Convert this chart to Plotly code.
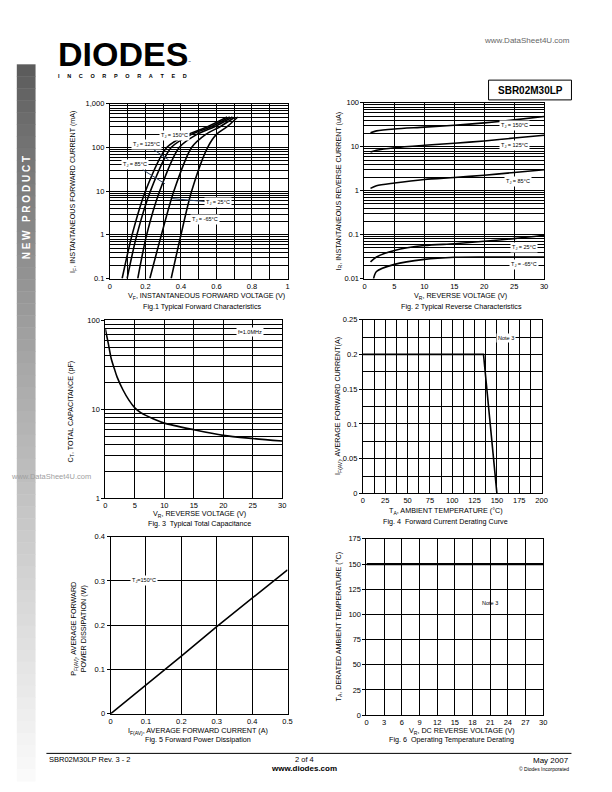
import plotly.graph_objects as go

W, H = 612, 792
FONT = "Liberation Sans, Arial, sans-serif"

# ---------------- data ----------------
# Fig.1 Typical Forward Characteristics (I_F in mA vs V_F in V)
fig1_if_ma = [0.1, 1, 10, 100, 200, 300, 500]
fig1_vf_150 = [0.069, 0.125, 0.200, 0.320, 0.440, 0.550, 0.660]
fig1_vf_125 = [0.097, 0.152, 0.228, 0.345, 0.460, 0.570, 0.675]
fig1_vf_85 = [0.157, 0.207, 0.280, 0.390, 0.490, 0.590, 0.690]
fig1_vf_25 = [0.225, 0.290, 0.360, 0.460, 0.540, 0.620, 0.705]
fig1_vf_m65 = [0.345, 0.400, 0.460, 0.550, 0.600, 0.660, 0.720]
fig1_xticks = [0, 0.2, 0.4, 0.6, 0.8, 1]
fig1_xticklabels = ["0", "0.2", "0.4", "0.6", "0.8", "1"]
fig1_xminor = [0.1, 0.3, 0.5, 0.7, 0.9]
fig1_ydecades = [0.1, 1, 10, 100, 1000]
fig1_yticklabels = ["0.1", "1", "10", "100", "1,000"]

# Fig.2 Typical Reverse Characteristics (I_R in uA vs V_R in V)
fig2_vr = [1, 2, 5, 10, 15, 20, 25, 30]
fig2_ir_150 = [21, 23, 25.5, 28, 31, 35, 41, 49]
fig2_ir_125 = [7.6, 8.3, 9.5, 10.8, 12.0, 13.6, 15.8, 18.3]
fig2_ir_85 = [1.13, 1.3, 1.5, 1.8, 2.0, 2.25, 2.6, 3.0]
fig2_ir_25 = [0.024, 0.031, 0.0436, 0.0565, 0.062, 0.0706, 0.081, 0.0965]
fig2_vr_m65 = [1.5, 2, 5, 10, 15, 20, 25, 30]
fig2_ir_m65 = [0.0098, 0.0145, 0.021, 0.0273, 0.0305, 0.031, 0.031, 0.031]
fig2_xticks = [0, 5, 10, 15, 20, 25, 30]
fig2_ydecades = [0.01, 0.1, 1, 10, 100]
fig2_yticklabels = ["0.01", "0.1", "1", "10", "100"]

# Fig.3 Typical Total Capacitance (C_T in pF vs V_R)
fig3_vr = [0, 0.5, 1, 1.5, 2, 3, 4, 5, 6, 8, 10, 15, 20, 25, 30]
fig3_ct = [80, 55, 37, 29, 23, 16.5, 12.7, 10.4, 9.2, 7.9, 7.0, 5.9, 5.1, 4.7, 4.4]
fig3_xticks = [0, 5, 10, 15, 20, 25, 30]
fig3_ydecades = [1, 10, 100]
fig3_yticklabels = ["1", "10", "100"]

# Fig.4 Forward Current Derating Curve
fig4_ta = [0, 135, 150]
fig4_if = [0.2, 0.2, 0.0]
fig4_xticks = [0, 25, 50, 75, 100, 125, 150, 175, 200]
fig4_xminor = [12.5, 37.5, 62.5, 87.5, 112.5, 137.5, 162.5, 187.5]
fig4_yticks = [0, 0.05, 0.1, 0.15, 0.2, 0.25]
fig4_yticklabels = ["0", "0.05", "0.1", "0.15", "0.2", "0.25"]
fig4_yminor = [0.025, 0.075, 0.125, 0.175, 0.225]

# Fig.5 Forward Power Dissipation
fig5_if = [0, 0.1, 0.2, 0.3, 0.4, 0.5]
fig5_pf = [0, 0.064, 0.130, 0.197, 0.260, 0.325]
fig5_xticks = [0, 0.1, 0.2, 0.3, 0.4, 0.5]
fig5_yticks = [0, 0.1, 0.2, 0.3, 0.4]

# Fig.6 Operating Temperature Derating
fig6_vr = [0, 30]
fig6_ta = [150, 150]
fig6_xticks = [0, 3, 6, 9, 12, 15, 18, 21, 24, 27, 30]
fig6_yticks = [0, 25, 50, 75, 100, 125, 150, 175]

# ---------------- helpers ----------------
def px(x):
    return x / W


def py(y):
    return 1 - y / H


def log_minor(decades):
    return [round(d * m, 6) for d in decades[:-1] for m in range(2, 10)]


annotations = []
shapes = []


def text(x, y, s, size=7, color="black", xanchor="center", angle=0, **kw):
    annotations.append(dict(x=px(x), y=py(y), xref="paper", yref="paper", text=s,
                            showarrow=False, xanchor=xanchor, yanchor="middle",
                            textangle=angle,
                            font=dict(family=FONT, size=size, color=color), **kw))


def axis_style(minor_vals=None, ticks="outside", **kw):
    d = dict(showgrid=True, gridcolor="black", gridwidth=1, showline=True,
             linecolor="black", linewidth=1, mirror=True, ticks=ticks,
             ticklen=3, tickcolor="black", zeroline=False, fixedrange=True,
             tickmode="array",
             tickfont=dict(family=FONT, size=7.5, color="black"))
    if minor_vals is not None:
        d["minor"] = dict(tickmode="array", tickvals=minor_vals, showgrid=True,
                          gridcolor="black", gridwidth=1, ticks="")
    d.update(kw)
    return d


fig = go.Figure()
line = dict(color="black", width=1.6)
sline = dict(color="black", width=1.6, shape="spline", smoothing=0.8)

# plot areas in page pixels: (left, right, top, bottom)
boxes = {
    1: (109.3, 289.3, 101, 277.7),
    2: (367.3, 549.3, 100, 277.7),
    3: (104.7, 284.0, 320, 500),
    4: (365.7, 546.7, 319.3, 495),
    5: (110.0, 289.3, 538.7, 718),
    6: (369.3, 548.3, 541, 719.3),
}


def dom(i):
    l, r, t, b = boxes[i]
    return [px(l), px(r)], [py(b), py(t)]


layout_axes = {}

# ---- Fig 1 ----
for vf in [fig1_vf_150, fig1_vf_125, fig1_vf_85, fig1_vf_25, fig1_vf_m65]:
    fig.add_trace(go.Scatter(x=vf, y=fig1_if_ma, mode="lines", line=sline,
                             xaxis="x", yaxis="y", showlegend=False, hoverinfo="skip"))
xd, yd = dom(1)
layout_axes["xaxis"] = axis_style(domain=xd, anchor="y", range=[0, 1], ticks="",
                                  tickvals=fig1_xticks, ticktext=fig1_xticklabels,
                                  minor_vals=fig1_xminor)
layout_axes["yaxis"] = axis_style(domain=yd, anchor="x", type="log", range=[-1, 3],
                                  tickvals=fig1_ydecades, ticktext=fig1_yticklabels,
                                  minor_vals=log_minor(fig1_ydecades))

# ---- Fig 2 ----
for ir in [fig2_ir_150, fig2_ir_125, fig2_ir_85, fig2_ir_25]:
    fig.add_trace(go.Scatter(x=fig2_vr, y=ir, mode="lines", line=sline,
                             xaxis="x2", yaxis="y2", showlegend=False, hoverinfo="skip"))
fig.add_trace(go.Scatter(x=fig2_vr_m65, y=fig2_ir_m65, mode="lines", line=sline,
                         xaxis="x2", yaxis="y2", showlegend=False, hoverinfo="skip"))
xd, yd = dom(2)
layout_axes["xaxis2"] = axis_style(domain=xd, anchor="y2", range=[0, 30], ticks="",
                                   tickvals=fig2_xticks)
layout_axes["yaxis2"] = axis_style(domain=yd, anchor="x2", type="log", range=[-2, 2],
                                   tickvals=fig2_ydecades, ticktext=fig2_yticklabels,
                                   minor_vals=log_minor(fig2_ydecades))

# ---- Fig 3 ----
fig.add_trace(go.Scatter(x=fig3_vr, y=fig3_ct, mode="lines", line=sline,
                         xaxis="x3", yaxis="y3", showlegend=False, hoverinfo="skip"))
xd, yd = dom(3)
layout_axes["xaxis3"] = axis_style(domain=xd, anchor="y3", range=[0, 30], ticks="",
                                   tickvals=fig3_xticks)
layout_axes["yaxis3"] = axis_style(domain=yd, anchor="x3", type="log", range=[0, 2],
                                   tickvals=fig3_ydecades, ticktext=fig3_yticklabels,
                                   minor_vals=log_minor(fig3_ydecades))

# ---- Fig 4 ----
fig.add_trace(go.Scatter(x=fig4_ta, y=fig4_if, mode="lines", line=line,
                         xaxis="x4", yaxis="y4", showlegend=False, hoverinfo="skip"))
xd, yd = dom(4)
layout_axes["xaxis4"] = axis_style(domain=xd, anchor="y4", range=[0, 200], ticks="",
                                   tickvals=fig4_xticks, minor_vals=fig4_xminor)
layout_axes["yaxis4"] = axis_style(domain=yd, anchor="x4", range=[0, 0.25],
                                   tickvals=fig4_yticks, ticktext=fig4_yticklabels,
                                   minor_vals=fig4_yminor)

# ---- Fig 5 ----
fig.add_trace(go.Scatter(x=fig5_if, y=fig5_pf, mode="lines", line=line,
                         xaxis="x5", yaxis="y5", showlegend=False, hoverinfo="skip"))
xd, yd = dom(5)
layout_axes["xaxis5"] = axis_style(domain=xd, anchor="y5", range=[0, 0.5], ticks="",
                                   tickvals=fig5_xticks, ticktext=[str(v) for v in fig5_xticks])
layout_axes["yaxis5"] = axis_style(domain=yd, anchor="x5", range=[0, 0.4], tickvals=fig5_yticks,
                                   ticktext=[str(v) for v in fig5_yticks])

# ---- Fig 6 ----
fig.add_trace(go.Scatter(x=fig6_vr, y=fig6_ta, mode="lines", line=dict(color="black", width=2.2),
                         xaxis="x6", yaxis="y6", showlegend=False, hoverinfo="skip"))
xd, yd = dom(6)
layout_axes["xaxis6"] = axis_style(domain=xd, anchor="y6", range=[0, 30], ticks="",
                                   tickvals=fig6_xticks)
layout_axes["yaxis6"] = axis_style(domain=yd, anchor="x6", range=[0, 175], tickvals=fig6_yticks)

# ---------------- in-plot labels ----------------
lab = dict(family=FONT, size=5.5, color="black")
# Fig 1 labels (log axis -> y in log10 units)
annotations += [
    dict(x=0.365, y=2.276, xref="x", yref="y", text="T<sub>J</sub> = 150°C", showarrow=False,
         font=lab, bgcolor="white"),
    dict(x=0.33, y=1.72, xref="x", yref="y", ax=-22, ay=-15, text="T<sub>J</sub> = 125°C",
         showarrow=True, arrowhead=0, arrowwidth=1, font=lab, bgcolor="white"),
    dict(x=0.31, y=1.17, xref="x", yref="y", ax=-30, ay=-19, text="T<sub>J</sub> = 85°C",
         showarrow=True, arrowhead=0, arrowwidth=1, font=lab, bgcolor="white"),
    dict(x=0.35, y=0.83, xref="x", yref="y", ax=46, ay=4, text="T<sub>J</sub> = 25°C",
         showarrow=True, arrowhead=0, arrowwidth=1, font=lab, bgcolor="white"),
    dict(x=0.535, y=0.35, xref="x", yref="y", text="T<sub>J</sub> = -65°C", showarrow=False,
         font=lab, bgcolor="white"),
]
# Fig 2 labels
for lx, ly, s in [(25.0, 1.48, "T<sub>J</sub> = 150°C"), (25.0, 1.03, "T<sub>J</sub> = 125°C"),
                  (25.6, 0.22, "T<sub>J</sub> = 85°C"), (26.7, -1.29, "T<sub>J</sub> = 25°C"),
                  (26.7, -1.69, "T<sub>J</sub> = -65°C")]:
    annotations.append(dict(x=lx, y=ly, xref="x2", yref="y2", text=s, showarrow=False,
                            font=lab, bgcolor="white"))
annotations.append(dict(x=24.6, y=1.867, xref="x3", yref="y3", text="f=1.0MHz", showarrow=False,
                        font=lab, bgcolor="white"))
annotations.append(dict(x=160.5, y=0.224, xref="x4", yref="y4", text="Note 3", showarrow=False,
                        font=lab, bgcolor="white"))
annotations.append(dict(x=0.095, y=0.301, xref="x5", yref="y5", text="T<sub>J</sub>=150°C",
                        showarrow=False, font=lab, bgcolor="white"))
annotations.append(dict(x=21.0, y=111, xref="x6", yref="y6", text="Note 3", showarrow=False,
                        font=lab))

# ---------------- axis titles & captions ----------------
TS = 7.2
text(72, 190, "I<sub>F</sub>, INSTANTANEOUS FORWARD CURRENT (mA)", TS, angle=-90)
text(207, 295, "V<sub>F</sub>, INSTANTANEOUS FORWARD VOLTAGE (V)", TS)
text(203, 306, "Fig.1 Typical Forward Characteristics", TS)

text(341, 189, "I<sub>R</sub>, INSTANTANEOUS REVERSE CURRENT (uA)", TS, angle=-90)
text(465, 295, "V<sub>R</sub>, REVERSE VOLTAGE (V)", TS)
text(466, 306, "Fig. 2 Typical Reverse Characteristics", TS)

text(70, 412, "C<sub>T</sub>, TOTAL CAPACITANCE (pF)", TS, angle=-90)
text(200, 516, "V<sub>R</sub>, REVERSE VOLTAGE (V)", TS)
text(200, 525, "Fig. 3  Typical Total Capacitance", TS)

text(341, 407, "I<sub>F(AV)</sub>, AVERAGE FORWARD CURRENT(A)", TS, angle=-90)
text(450, 513, "T<sub>A</sub>, AMBIENT TEMPERATURE (°C)", TS)
text(449, 523, "Fig. 4  Forward Current Derating Curve", TS)

text(77, 632, "P<sub>F(AV)</sub>, AVERAGE FORWARD<br>POWER DISSIPATION (W)", TS, angle=-90)
text(199, 735, "I<sub>F(AV)</sub>, AVERAGE FORWARD CURRENT (A)", TS)
text(199, 744, "Fig. 5 Forward Power Dissipation", TS)

text(341, 630, "T<sub>A</sub>, DERATED AMBIENT TEMPERATURE (°C)", TS, angle=-90)
text(466, 735, "V<sub>R</sub>, DC REVERSE VOLTAGE (V)", TS)
text(455, 744, "Fig. 6  Operating Temperature Derating", TS)

# ---------------- page decorations ----------------
# sidebar gradient
n = 60
top, bot = 61, 786
for i in range(n):
    y0 = top + (bot - top) * i / n
    y1 = top + (bot - top) * (i + 1) / n
    f = i / (n - 1)
    g = int(92 + (250 - 92) * (f ** 0.85))
    shapes.append(dict(type="rect", xref="paper", yref="paper", x0=px(15), x1=px(34),
                       y0=py(y1 + 0.5), y1=py(y0), fillcolor=f"rgb({g},{g},{g})",
                       line=dict(width=0), layer="below"))
text(25, 206, "<b>N\u00a0E\u00a0W\u00a0\u00a0\u00a0P\u00a0R\u00a0O\u00a0D\u00a0U\u00a0C\u00a0T</b>", 10,
     color="white", angle=-90)

# logo
text(123, 50.5, "<b>DIODES</b>", 34)
text(122, 73, "<b>" + ("\u00a0" * 5).join("INCORPORATED") + "</b>", 5.5)
text(190, 59, "™", 3)
text(578, 37, "www.DataSheet4U.com", 8, color="#666666", xanchor="right")

# part number box
shapes.append(dict(type="rect", xref="paper", yref="paper", x0=px(493), x1=px(577),
                   y0=py(97), y1=py(77), line=dict(color="black", width=1)))
text(535, 87, "<b>SBR02M30LP</b>", 10)

# watermark near fig 3
text(92, 478, "www.DataSheet4U.com", 7.5, color="#a0a0a0", xanchor="right")

# footer
shapes.append(dict(type="line", xref="paper", yref="paper", x0=px(45), x1=px(577),
                   y0=py(758), y1=py(758), line=dict(color="black", width=1)))
text(46, 764, "SBR02M30LP Rev. 3 - 2", 7.5, xanchor="left")
text(306, 764, "2 of 4", 7.5)
text(306, 773, "<b>www.diodes.com</b>", 8)
text(577, 765, "May 2007", 8, xanchor="right")
text(577, 774, "© Diodes Incorporated", 5, xanchor="right")

fig.update_layout(
    width=W, height=H, autosize=False,
    margin=dict(l=0, r=0, t=0, b=0),
    paper_bgcolor="white", plot_bgcolor="white",
    showlegend=False,
    annotations=annotations, shapes=shapes,
    font=dict(family=FONT, color="black"),
    **layout_axes,
)

fig.write_html("out.html", config={"displayModeBar": False, "staticPlot": True})
